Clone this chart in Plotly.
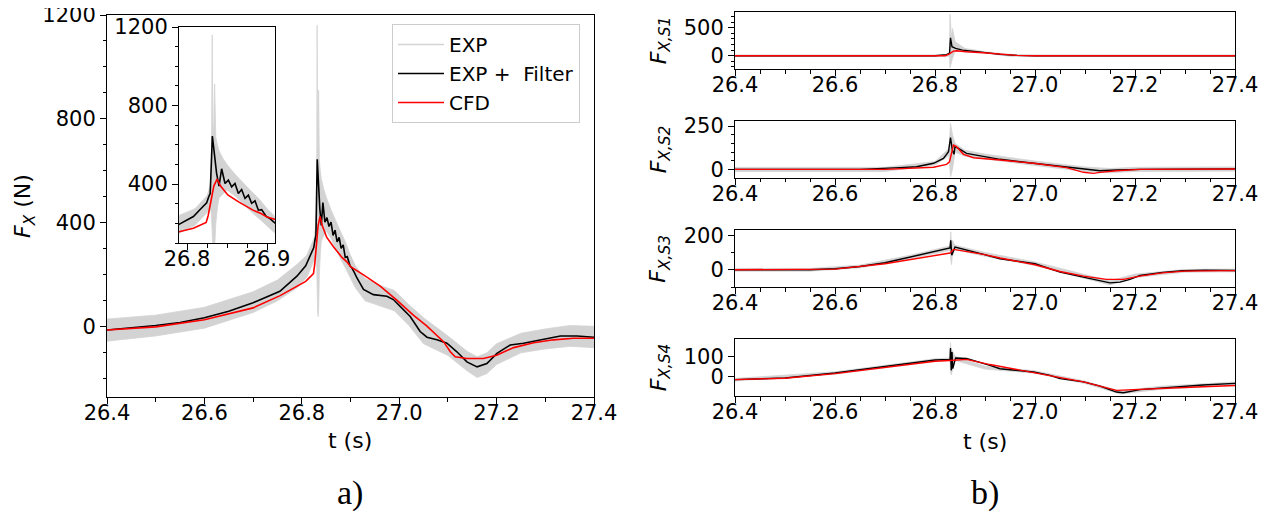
import plotly.graph_objects as go

# ---------------- main panel (a) : total force ----------------
t_filt = [26.400, 26.450, 26.500, 26.550, 26.600, 26.650, 26.700, 26.755, 26.790, 26.808,
          26.817, 26.8246, 26.8274, 26.829, 26.8317, 26.834, 26.837, 26.840, 26.8433, 26.8475,
          26.8517, 26.8558, 26.860, 26.8642, 26.8683, 26.8725, 26.8767, 26.8808, 26.885, 26.8892,
          26.8933, 26.899, 26.903, 26.9083, 26.913, 26.9267, 26.947, 26.9747, 26.988, 27.002,
          27.0226, 27.043, 27.057, 27.0774, 27.098, 27.1185, 27.139, 27.160, 27.180, 27.2007,
          27.228, 27.2554, 27.290, 27.331, 27.365, 27.400]
fx_filt = [-12, -4, 5, 17, 35, 60, 93, 137, 195, 235,
           273, 305, 338, 352, 645, 556, 455, 390, 478, 403,
           420, 386, 403, 352, 372, 327, 344, 302, 315, 267,
           270, 235, 226, 208, 189, 144, 124, 118, 105, 79,
           40, -18, -40, -50, -63, -96, -135, -154, -141, -102,
           -70, -63, -50, -35, -35, -40]

t_cfd = [26.400, 26.500, 26.600, 26.700, 26.7555, 26.790, 26.808, 26.824, 26.8265, 26.8335,
         26.8376, 26.842, 26.851, 26.865, 26.883, 26.8925, 26.900, 26.9267, 26.961, 26.995,
         27.029, 27.057, 27.077, 27.091, 27.105, 27.115, 27.139, 27.173, 27.200, 27.235,
         27.276, 27.317, 27.358, 27.400]
fx_cfd = [-12, 0, 27, 73, 120, 157, 175, 205, 240, 390,
          425, 390, 345, 308, 266, 250, 232, 200, 157, 103,
          45, 3, -31, -57, -96, -115, -122, -122, -109, -80,
          -61, -50, -44, -44]

t_exp = [26.400, 26.500, 26.600, 26.700, 26.750, 26.790, 26.810, 26.825, 26.829, 26.8305,
         26.8315, 26.8325, 26.8335, 26.8345, 26.836, 26.838, 26.840, 26.845, 26.850, 26.860,
         26.870, 26.880, 26.890, 26.900, 26.910, 26.930, 26.960, 26.990, 27.020, 27.050,
         27.100, 27.140, 27.160, 27.180, 27.200, 27.250, 27.300, 27.350, 27.400]
fx_exp_hi = [30, 45, 75, 135, 180, 240, 275, 340, 390, 500,
             1160, 640, 700, 910, 640, 600, 570, 530, 500, 450,
             405, 365, 325, 275, 235, 185, 160, 140, 85, 35,
             -35, -95, -115, -100, -65, -25, -8, 5, 2]
fx_exp_lo = [-55, -35, -5, 55, 100, 150, 190, 255, 280, 250,
             200, 60, 40, 70, 200, 280, 330, 350, 370, 340,
             300, 260, 225, 190, 150, 100, 80, 62, 5, -65,
             -110, -170, -195, -180, -145, -100, -85, -75, -80]

# ---------------- right panels (b) : per-section forces ----------------
s1_t_filt = [26.40, 26.80, 26.823, 26.829, 26.831, 26.834, 26.8413, 26.855, 26.897, 26.93, 26.963, 27.0, 27.4]
s1_filt   = [0, 0, 20, 40, 321, 160, 131, 100, 60, 24, 6, 0, 0]
s1_t_cfd  = [26.40, 26.82, 26.827, 26.837, 26.843, 26.863, 26.897, 26.93, 26.963, 27.0, 27.4]
s1_cfd    = [0, 0, 24, 83, 89, 71, 54, 24, 6, 0, 0]
s1_t_exp  = [26.40, 26.82, 26.829, 26.830, 26.833, 26.835, 26.840, 26.860, 26.900, 26.950, 27.0, 27.4]
s1_exp_hi = [15, 15, 60, 738, 300, 488, 250, 130, 70, 25, 15, 15]
s1_exp_lo = [-15, -15, -10, -214, -100, -50, 80, 70, 45, -10, -15, -15]

s2_t_filt = [26.40, 26.65, 26.73, 26.763, 26.797, 26.817, 26.827, 26.831, 26.8347, 26.838, 26.840,
             26.847, 26.863, 26.897, 26.93, 26.997, 27.063, 27.097, 27.13, 27.163, 27.21, 27.4]
s2_filt   = [0, 0, 10, 15, 35, 63, 102, 183, 112, 87, 131,
             121, 92, 73, 58, 35, 15, 2, -8, -4, 0, 3]
s2_t_cfd  = [26.40, 26.70, 26.797, 26.823, 26.829, 26.837, 26.843, 26.857, 26.877, 26.897, 26.93,
             26.997, 27.063, 27.097, 27.117, 27.13, 27.163, 27.21, 27.4]
s2_cfd    = [0, 0, 12, 29, 44, 140, 131, 87, 67, 63, 54,
             35, 10, -17, -23, -17, -8, 0, 2]
s2_t_exp  = [26.40, 26.70, 26.80, 26.828, 26.831, 26.835, 26.840, 26.860, 26.900, 27.0, 27.1, 27.15, 27.2, 27.4]
s2_exp_hi = [12, 12, 45, 120, 265, 200, 150, 110, 88, 48, 14, 5, 12, 14]
s2_exp_lo = [-12, -12, 25, 80, -42, 0, 100, 75, 58, 22, -12, -20, -12, -10]

s3_t_filt = [26.40, 26.55, 26.60, 26.65, 26.70, 26.75, 26.80, 26.83, 26.8315, 26.8335, 26.84, 26.863,
             26.897, 26.93, 26.963, 27.0, 27.05, 27.097, 27.13, 27.15, 27.17, 27.19, 27.21, 27.255,
             27.295, 27.34, 27.4]
s3_filt   = [0, 0, 6, 19, 41, 74, 107, 126, 171, 84, 132, 113,
             89, 64, 50, 35, -14, -43, -62, -76, -72, -56, -33, -15,
             -6, -2, -4]
s3_t_cfd  = [26.40, 26.55, 26.60, 26.70, 26.75, 26.80, 26.83, 26.837, 26.863, 26.897, 26.93, 27.0,
             27.05, 27.097, 27.143, 27.177, 27.21, 27.255, 27.3, 27.4]
s3_cfd    = [0, 0, 4, 35, 60, 84, 97, 118, 107, 89, 68, 29,
             -10, -37, -56, -56, -37, -18, -8, -5]
s3_t_exp  = [26.40, 26.55, 26.65, 26.75, 26.83, 26.8315, 26.833, 26.8345, 26.84, 26.90, 27.0, 27.1,
             27.15, 27.2, 27.3, 27.4]
s3_exp_hi = [8, 8, 27, 84, 138, 220, 150, 170, 142, 100, 45, -25, -64, -25, 2, 4]
s3_exp_lo = [-8, -8, 11, 64, 112, 60, 30, 80, 118, 78, 25, -50, -88, -45, -14, -12]

s4_t_filt = [26.40, 26.50, 26.60, 26.70, 26.75, 26.80, 26.83, 26.831, 26.8325, 26.834, 26.8355, 26.8413,
             26.863, 26.883, 26.91, 26.93, 26.963, 26.997, 27.03, 27.05, 27.097, 27.13, 27.163, 27.177,
             27.21, 27.255, 27.295, 27.336, 27.4]
s4_filt   = [-13, -5, 19, 52, 69, 82, 85, 140, 32, 120, 40, 92,
             89, 76, 56, 40, 32, 24, 8, -8, -24, -44, -73, -76,
             -61, -52, -47, -39, -31]
s4_t_cfd  = [26.40, 26.50, 26.60, 26.70, 26.80, 26.837, 26.863, 26.91, 26.963, 27.03, 27.097, 27.163,
             27.21, 27.255, 27.336, 27.4]
s4_cfd    = [-13, -6, 16, 47, 76, 81, 85, 60, 37, 8, -24, -65,
             -61, -56, -47, -41]
s4_t_exp  = [26.40, 26.60, 26.80, 26.83, 26.831, 26.8325, 26.834, 26.84, 26.90, 27.0, 27.1, 27.17, 27.25, 27.4]
s4_exp_hi = [-7, 25, 88, 92, 165, 100, 130, 100, 52, 30, -20, -68, -45, -24]
s4_exp_lo = [-19, 13, 76, 78, 20, 10, 30, 80, 38, 18, -32, -82, -60, -38]

x_ticks = [26.4, 26.6, 26.8, 27.0, 27.2, 27.4]

GRAY = "#d3d3d3"
FONT = "DejaVu Sans"
W, H = 1269, 517
OFF = 8  # page body margin offset

fig = go.Figure()


def add_band(t, hi, lo, xa, ya):
    fig.add_trace(go.Scatter(x=list(t) + list(t)[::-1], y=list(hi) + list(lo)[::-1],
                             fill="toself", fillcolor=GRAY, mode="lines",
                             line=dict(color=GRAY, width=0.8), hoverinfo="skip",
                             showlegend=False, xaxis=xa, yaxis=ya))


def add_line(t, y, color, xa, ya, name=None, show=False, width=1.6):
    fig.add_trace(go.Scatter(x=t, y=y, mode="lines", line=dict(color=color, width=width),
                             name=name, showlegend=show, xaxis=xa, yaxis=ya))


# main
add_band(t_exp, fx_exp_hi, fx_exp_lo, "x", "y")
add_line(t_filt, fx_filt, "black", "x", "y")
add_line(t_cfd, fx_cfd, "red", "x", "y")
# legend entries
fig.add_trace(go.Scatter(x=[None], y=[None], mode="lines", line=dict(color=GRAY, width=1.6),
                         name="EXP", xaxis="x", yaxis="y"))
fig.add_trace(go.Scatter(x=[None], y=[None], mode="lines", line=dict(color="black", width=1.6),
                         name="EXP + \u00a0Filter", xaxis="x", yaxis="y"))
fig.add_trace(go.Scatter(x=[None], y=[None], mode="lines", line=dict(color="red", width=1.6),
                         name="CFD", xaxis="x", yaxis="y"))
# inset
add_band(t_exp, fx_exp_hi, fx_exp_lo, "x2", "y2")
add_line(t_filt, fx_filt, "black", "x2", "y2")
add_line(t_cfd, fx_cfd, "red", "x2", "y2")

panels = [
    (s1_t_exp, s1_exp_hi, s1_exp_lo, s1_t_filt, s1_filt, s1_t_cfd, s1_cfd),
    (s2_t_exp, s2_exp_hi, s2_exp_lo, s2_t_filt, s2_filt, s2_t_cfd, s2_cfd),
    (s3_t_exp, s3_exp_hi, s3_exp_lo, s3_t_filt, s3_filt, s3_t_cfd, s3_cfd),
    (s4_t_exp, s4_exp_hi, s4_exp_lo, s4_t_filt, s4_filt, s4_t_cfd, s4_cfd),
]
for i, (te, hi, lo, tf, yf, tc, yc) in enumerate(panels):
    xa, ya = "x%d" % (i + 3), "y%d" % (i + 3)
    add_band(te, hi, lo, xa, ya)
    add_line(tf, yf, "black", xa, ya, width=1.4)
    add_line(tc, yc, "red", xa, ya, width=1.4)


def fx(a):
    return (a - OFF) / W


def fy(b):
    return 1 - (b - OFF) / H


def px_x(a, b):
    return [fx(a), fx(b)]


def px_y(top, bottom):
    return [fy(bottom), fy(top)]


def axis(domain, rng, tickvals, minor, anchor, fmt=None, standoff=0):
    d = dict(domain=domain, range=rng, tickvals=tickvals, ticks="outside", ticklen=6,
             tickwidth=1, tickcolor="black", showline=True, mirror=True, linecolor="black",
             linewidth=1, showgrid=False, zeroline=False, anchor=anchor, automargin=False,
             ticklabeloverflow="allow", ticklabelstandoff=standoff,
             tickfont=dict(family=FONT, size=21, color="black"))
    if fmt:
        d["tickformat"] = fmt
    if minor:
        d["minor"] = dict(dtick=minor, tick0=tickvals[0], ticks="outside", ticklen=3.5,
                          tickwidth=1, tickcolor="black", showgrid=False)
    return d


lay = dict(
    width=W, height=H, margin=dict(l=0, r=0, t=0, b=0, autoexpand=False),
    paper_bgcolor="white", plot_bgcolor="white",
    font=dict(family=FONT, color="black"),
    showlegend=True,
    legend=dict(x=fx(392), y=fy(24), xanchor="left", yanchor="top", itemwidth=46,
                bgcolor="rgba(255,255,255,0.9)", bordercolor="#cccccc", borderwidth=1,
                font=dict(family=FONT, size=20, color="black"), tracegroupgap=0),
)
XSO = -9
lay["xaxis"] = axis(px_x(107, 594), [26.4, 27.4], x_ticks, 0.1, "y", ".1f", XSO)
lay["yaxis"] = axis(px_y(15, 397), [-270, 1200], [0, 400, 800, 1200], 100, "x")
lay["xaxis2"] = axis(px_x(179, 275), [26.79, 26.91], [26.8, 26.9], 0.025, "y2", ".1f", XSO)
lay["yaxis2"] = axis(px_y(27, 243), [100, 1200], [400, 800, 1200], 100, "x2")

right = [
    ((11.7, 69), [-237, 786], [0, 500], 100),
    ((121, 177.7), [-48, 279], [0, 250], 50),
    ((230.3, 287), [-100, 229], [0, 200], 100),
    ((338.7, 396), [-92, 185], [0, 100], None),
]
for i, ((top, bot), rng, tv, mn) in enumerate(right):
    n = i + 3
    lay["xaxis%d" % n] = axis(px_x(735, 1235), [26.4, 27.4], x_ticks, 0.05, "y%d" % n, ".1f", XSO)
    lay["yaxis%d" % n] = axis(px_y(top, bot), rng, tv, mn, "x%d" % n)

fig.update_layout(**lay)


def label(text, x, y, size, family=FONT, angle=0):
    return dict(text=text, x=fx(x), y=fy(y), xref="paper", yref="paper", xanchor="center",
                yanchor="middle", textangle=angle, showarrow=False,
                font=dict(family=family, size=size, color="black"))


ann = [label("t (s)", 350, 440, 22), label("t (s)", 985, 441, 22),
       label("<i>F</i><sub><i>X</i></sub> (N)", 24, 206, 22, angle=-90)]
for i, ((top, bot), _, _, _) in enumerate(right):
    ann.append(label("<i>F</i><sub><i>X,S%d</i></sub>" % (i + 1), 660, (top + bot) / 2, 22,
                     angle=-90))
ann.append(label("a)", 350, 493, 34, family="Liberation Serif"))
ann.append(label("b)", 985, 493, 34, family="Liberation Serif"))
fig.update_layout(annotations=ann)

fig.write_html("out.html")
